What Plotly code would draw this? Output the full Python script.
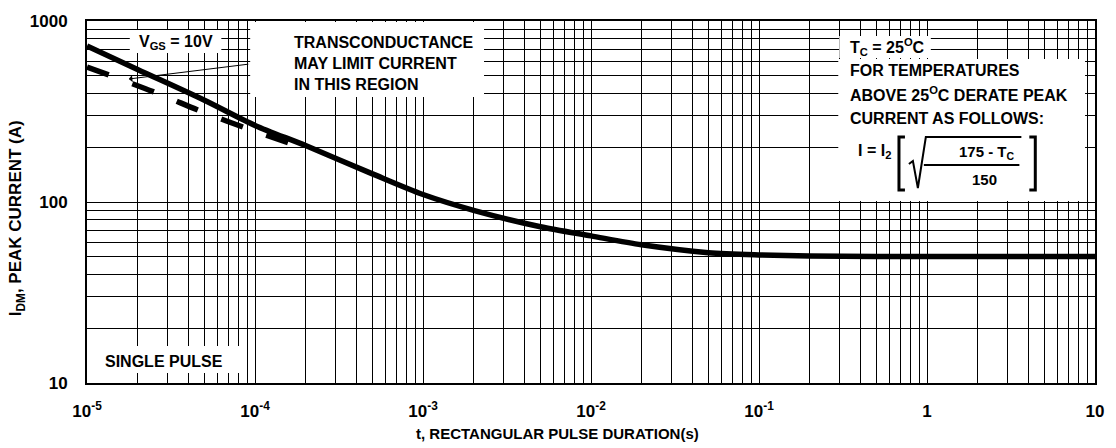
import plotly.graph_objects as go

# ---- data ----
solid_t = [1e-5, 2e-5, 5e-5, 1e-4, 2e-4, 5e-4, 1e-3, 2e-3, 5e-3, 1e-2, 2e-2, 5e-2, 1e-1, 2e-1, 5e-1, 1, 10]
solid_i = [728, 540, 365, 265, 205, 143, 110, 90, 73, 65, 58, 52.5, 51, 50.3, 50, 50, 50]

dash_t = [1e-5, 2.6e-5, 4.9e-5, 9.5e-5, 1.8e-4]
dash_i = [557, 400, 314, 250, 204]

x_tickvals = [1e-5, 1e-4, 1e-3, 1e-2, 1e-1, 1, 10]
x_ticktext = ["10<sup>-5</sup>", "10<sup>-4</sup>", "10<sup>-3</sup>", "10<sup>-2</sup>",
              "10<sup>-1</sup>", "1", "10"]
y_tickvals = [10, 100, 1000]
y_ticktext = ["10", "100", "1000"]

x_minor = [m * 10.0 ** e for e in range(-5, 1) for m in range(2, 10)]
y_minor = [m * 10.0 ** e for e in range(1, 3) for m in range(2, 10)]

FONT = "Liberation Sans, Arial, Helvetica, sans-serif"
W, H = 1116, 448
L, R, T, B = 87, 16, 21, 65
PW, PH = W - L - R, H - T - B


def px(x):
    return (x - L) / PW


def py(y):
    return (H - B - y) / PH


fig = go.Figure()
fig.add_trace(go.Scatter(x=solid_t, y=solid_i, mode="lines",
                         line=dict(color="black", width=5.5, shape="spline", smoothing=0.8),
                         hoverinfo="skip", showlegend=False))
fig.add_trace(go.Scatter(x=dash_t, y=dash_i, mode="lines",
                         line=dict(color="black", width=5.5, dash="23px,25px", shape="spline"),
                         hoverinfo="skip", showlegend=False))

shapes = []


def white_box(x0, y0, x1, y1):
    shapes.append(dict(type="rect", xref="paper", yref="paper",
                       x0=px(x0), x1=px(x1), y0=py(y1), y1=py(y0),
                       fillcolor="white", line=dict(width=0), layer="above"))


white_box(130, 30, 222, 53)      # VGS label
white_box(251, 22, 486, 97)      # transconductance note
white_box(843, 36, 935, 58)      # Tc label
white_box(842, 59, 1090, 201)    # derating note
white_box(96, 346, 240, 373)     # single pulse


def path(points, width):
    d = "M " + " L ".join(f"{px(x):.5f},{py(y):.5f}" for x, y in points)
    shapes.append(dict(type="path", xref="paper", yref="paper", path=d,
                       line=dict(color="black", width=width), layer="above"))


# brackets
path([(909, 137), (903, 137), (903, 190), (909, 190)], 3)
path([(1034, 137), (1040, 137), (1040, 190), (1034, 190)], 3)
# square root sign
path([(913, 164), (917, 161), (922, 188), (930, 137), (1026, 137)], 2)
# fraction bar
path([(928, 165), (1024, 165)], 2)

annotations = []


def txt(x, y, text, size=16, xanchor="left"):
    annotations.append(dict(x=px(x), y=py(y), xref="paper", yref="paper", text=text,
                            showarrow=False, xanchor=xanchor, yanchor="middle",
                            font=dict(family=FONT, size=size, color="black")))


txt(176, 42, "<b>V<sub>GS</sub> = 10V</b>", 16, "center")
txt(293, 42, "<b>TRANSCONDUCTANCE</b>", 16)
txt(293, 63, "<b>MAY LIMIT CURRENT</b>", 16)
txt(293, 84, "<b>IN THIS REGION</b>", 16)
txt(852, 47, "<b>T<sub>C</sub> = 25<sup>O</sup>C</b>", 16)
txt(852, 70, "<b>FOR TEMPERATURES</b>", 16)
txt(852, 94, "<b>ABOVE 25<sup>O</sup>C DERATE PEAK</b>", 16)
txt(852, 118, "<b>CURRENT AS FOLLOWS:</b>", 16)
txt(860, 151, "<b>I = I<sub>2</sub></b>", 16)
txt(991, 152, "<b>175 - T<sub>C</sub></b>", 15, "center")
txt(989, 179, "<b>150</b>", 15, "center")
txt(103, 361, "<b>SINGLE PULSE</b>", 16)

# axis titles
txt(560, 434, "<b>t, RECTANGULAR PULSE DURATION(s)</b>", 15, "center")
annotations.append(dict(x=px(17), y=py(218), xref="paper", yref="paper",
                        text="<b>I<sub>DM</sub>, PEAK CURRENT (A)</b>", textangle=-90,
                        showarrow=False, xanchor="center", yanchor="middle",
                        font=dict(family=FONT, size=17, color="black")))

# arrow from note to the curve region
annotations.append(dict(x=px(129), y=py(79), xref="paper", yref="paper", text="",
                        showarrow=True, ax=121, ay=-15, arrowhead=1, arrowsize=1.2,
                        arrowwidth=1, arrowcolor="black"))

axis_common = dict(showline=True, linecolor="black", linewidth=2, mirror=True,
                   gridcolor="black", gridwidth=1, zeroline=False,
                   tickfont=dict(family=FONT, size=17, color="black"),
                   ticks="", tickmode="array")

fig.update_xaxes(type="log", range=[-5, 1], tickvals=x_tickvals,
                 ticktext=[f"<b>{t}</b>" for t in x_ticktext],
                 minor=dict(tickvals=x_minor, showgrid=True, gridcolor="black", gridwidth=1),
                 ticklabelstandoff=12, **axis_common)
fig.update_yaxes(type="log", range=[1, 3], tickvals=y_tickvals,
                 ticktext=[f"<b>{t}</b>" for t in y_ticktext],
                 minor=dict(tickvals=y_minor, showgrid=True, gridcolor="black", gridwidth=1),
                 ticklabelstandoff=14, **axis_common)

fig.update_layout(width=W, height=H, margin=dict(l=L, r=R, t=T, b=B),
                  paper_bgcolor="white", plot_bgcolor="white",
                  shapes=shapes, annotations=annotations, showlegend=False)

fig.write_html("out.html", config={"displayModeBar": False},
               post_script="document.body.style.margin='0';document.body.style.overflow='hidden';")
